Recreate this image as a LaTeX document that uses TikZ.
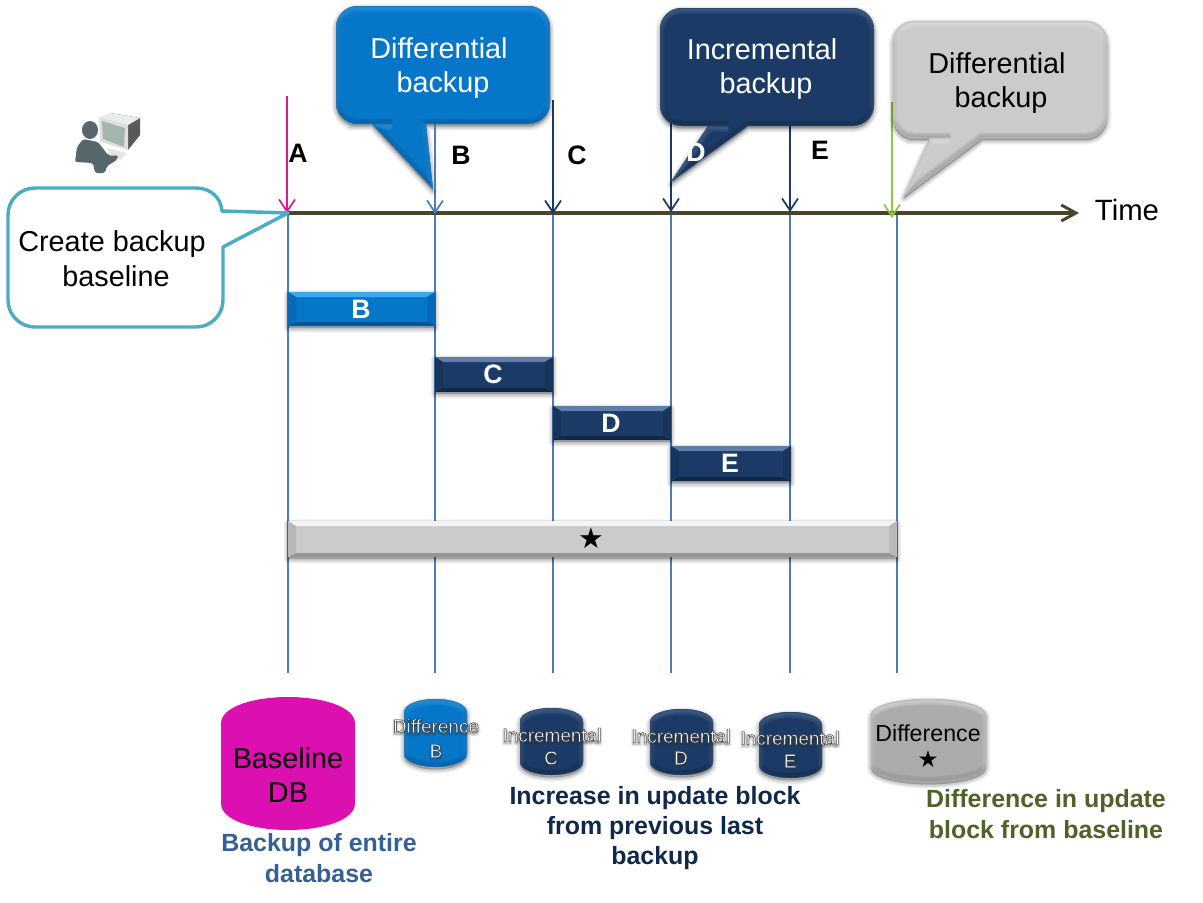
\documentclass[tikz,border=0pt]{standalone}
\usepackage{fontspec}
\setmainfont{Liberation Sans}
\newfontfamily\symfont{DejaVu Sans}
\usetikzlibrary{arrows.meta}
\definecolor{cblue}{HTML}{0676C9}
\definecolor{cbluel}{HTML}{3FA9EE}
\definecolor{cblued}{HTML}{034A80}
\definecolor{cnavy}{HTML}{1B3B66}
\definecolor{cnavyl}{HTML}{5F7FA8}
\definecolor{cnavyd}{HTML}{0B1E38}
\definecolor{cgray}{HTML}{CBCBCB}
\definecolor{cgrayl}{HTML}{F5F5F5}
\definecolor{cgrayd}{HTML}{7E7E7E}
\definecolor{cgrayb}{HTML}{ABABAB}
\definecolor{cmag}{HTML}{DC10B0}
\definecolor{cline}{HTML}{4A7EBB}
\definecolor{caxis}{HTML}{4A452A}
\definecolor{cteal}{HTML}{4BACC6}
\definecolor{cpink}{HTML}{E6168C}
\definecolor{cgreen}{HTML}{8CC83C}
\definecolor{tblue}{HTML}{376092}
\definecolor{tnavy}{HTML}{10294A}
\definecolor{tgreen}{HTML}{4F6228}
\definecolor{cbody}{HTML}{56676B}
\definecolor{cscreen}{HTML}{A5B5AE}
\tikzset{
  vline/.style={cline,line width=1.5pt},
  arrowline/.style={line width=1.5pt,-{Straight Barb[length=9pt,width=12pt,line width=1.3pt]}},
  bartext/.style={font=\bfseries\fontsize{20}{24}\selectfont,text=white,inner sep=0pt},
  letter/.style={font=\bfseries\fontsize{20}{24}\selectfont,inner sep=0pt},
  calltext/.style={font=\fontsize{21.6}{26}\selectfont,align=center,inner sep=0pt},
  cyltext/.style={font=\fontsize{14.2}{17}\selectfont,inner sep=0pt},
  lab/.style={font=\bfseries\fontsize{18.7}{22.8}\selectfont,align=center,inner sep=0pt}
}
% soft outer shadow, below the shape
\newcommand\softshadow[1]{%
  \foreach \w in {6.5pt,5.5pt,4.5pt,3.5pt,2.5pt,1.5pt,.5pt}{%
    \draw[black,opacity=.035,line width=\w,line join=round,fill=black,yshift=-1.8pt] #1;}}
% inner bevel of a shape
\newcommand\bevelshape[4]{%
  \fill[#2] #1;
  \begin{scope}
    \clip #1;
    \foreach \w/\o in {7pt/.12,5.5pt/.12,4pt/.14,2.5pt/.16,1.2pt/.18}{%
      \draw[#4,opacity=\o,line width=\w,yshift=.8pt] #1;
      \draw[#3,opacity=\o,line width=\w,yshift=-1.2pt] #1;}
  \end{scope}}
% bar with mitred bevel: x1,y1,x2,y2,base,light,dark
\newcommand\bevelbar[7]{%
  \softshadow{(#1,#2) rectangle (#3,#4)}
  \fill[#5] (#1,#2) rectangle (#3,#4);
  \fill[#6] (#1,#2) -- (#3,#2) -- ({#3-8},{#2+5}) -- ({#1+8},{#2+5}) -- cycle;
  \fill[#7!70!#5] (#1,#4) -- (#3,#4) -- ({#3-8},{#4-4}) -- ({#1+8},{#4-4}) -- cycle;
  \fill[#7!25!#5] (#1,#2) -- ({#1+8},{#2+5}) -- ({#1+8},{#4-4}) -- (#1,#4) -- cycle;
  \fill[#7!25!#5] (#3,#2) -- ({#3-8},{#2+5}) -- ({#3-8},{#4-4}) -- (#3,#4) -- cycle;
}
% cylinder outline x1,y1,x2,y2
\newcommand\cylpath[4]{({#1},{#2+0.2*(#4-#2)}) .. controls ({#1},{#2+0.07*(#4-#2)}) and ({#1+0.25*(#3-#1)},{#2}) .. ({0.5*(#1+#3)},{#2}) .. controls ({#3-0.25*(#3-#1)},{#2}) and ({#3},{#2+0.07*(#4-#2)}) .. ({#3},{#2+0.2*(#4-#2)}) -- ({#3},{#4-0.2*(#4-#2)}) .. controls ({#3},{#4-0.07*(#4-#2)}) and ({#3-0.25*(#3-#1)},{#4}) .. ({0.5*(#1+#3)},{#4}) .. controls ({#1+0.25*(#3-#1)},{#4}) and ({#1},{#4-0.07*(#4-#2)}) .. ({#1},{#4-0.2*(#4-#2)}) -- cycle}
% callout outline: x1,y1,x2,y2,base1,base2,tipx,tipy
\newcommand\callpath[8]{(#6,#4) -- ({#6+1},#4) [rounded corners=16pt] -- (#3,#4) -- (#3,#2) -- (#1,#2) -- (#1,#4) -- ({#5-1},#4) [sharp corners] -- (#5,#4) -- (#7,#8) -- cycle}
% outlined text
\newcommand\outl[1]{\special{pdf:code 2 Tr 0.28 w 0.15 G 1 g}#1\special{pdf:code 0 Tr 0 g 0 G}}
\newcommand\halo[2]{\special{pdf:code 1 Tr #1 w 0.2 G}#2\special{pdf:code 0 Tr 0 g 0 G}}
\newcommand\cyllabel[3]{%
  \foreach \hw/\ho in {3.4/.08,2/.12,.9/.18}{%
    \node[cyltext,opacity=\ho,yshift=-1pt] at (#1,#2) {\halo{\hw}{#3}};}
  \node[cyltext] at (#1,#2) {\outl{#3}};}
\begin{document}
\begin{tikzpicture}[x=0.75pt,y=-0.75pt]
\useasboundingbox (0,0) rectangle (1203,903);
\fill[white] (0,0) rectangle (1203,903);
% named positions
\foreach \n/\x in {a/288,b/435,c/553,d/671,e/790,f/897}{%
  \coordinate (\n top) at (\x,214);
  \coordinate (\n bot) at (\x,673);
  \draw[vline] (\n top) -- (\n bot);}
\coordinate (axisL) at (262,213);
\coordinate (axisR) at (1079,213);
\draw[caxis,line width=2.5pt,-{Straight Barb[length=11pt,width=12pt,line width=2.2pt]}] (axisL) -- (axisR);
% event arrows
\coordinate (pA0) at (287,96);   \coordinate (pA1) at (287,213);
\coordinate (pB0) at (435,100);  \coordinate (pB1) at (435,214);
\coordinate (pC0) at (553,100);  \coordinate (pC1) at (553,214);
\coordinate (pD0) at (671,100);  \coordinate (pD1) at (671,212);
\coordinate (pE0) at (790,100);  \coordinate (pE1) at (790,212);
\coordinate (pG0) at (892,102);  \coordinate (pG1) at (892,218);
\draw[arrowline,cpink] (pA0) -- (pA1);
\draw[arrowline,cline] (pB0) -- (pB1);
\draw[arrowline,cnavy] (pC0) -- (pC1);
\draw[arrowline,cnavy] (pD0) -- (pD1);
\draw[arrowline,cnavy] (pE0) -- (pE1);
\draw[arrowline,cgreen] (pG0) -- (pG1);
% bars
\bevelbar{288}{292}{435}{326}{cblue}{cbluel}{cblued}
\bevelbar{435}{357}{553}{392}{cnavy}{cnavyl}{cnavyd}
\bevelbar{553}{406}{671}{440}{cnavy}{cnavyl}{cnavyd}
\bevelbar{671}{446}{791}{481}{cnavy}{cnavyl}{cnavyd}
\bevelbar{288}{521}{897}{557}{cgray}{cgrayl}{cgrayd}
\node[bartext] (barB) at (361,309) {B};
\node[bartext] (barC) at (493,374) {C};
\node[bartext] (barD) at (611,423) {D};
\node[bartext] (barE) at (730,463) {E};
\node[inner sep=0pt,font=\symfont\fontsize{21.5}{24}\selectfont] (barS) at (591,538) {★};
% callouts
\softshadow{\callpath{336}{6}{550}{124}{372}{426}{433}{189}}
\bevelshape{\callpath{336}{6}{550}{124}{372}{426}{433}{189}}{cblue}{cbluel}{cblued}
\softshadow{\callpath{660}{8}{874}{126}{708}{748}{671}{182}}
\bevelshape{\callpath{660}{8}{874}{126}{708}{748}{671}{182}}{cnavy}{cnavyl}{cnavyd}
\softshadow{\callpath{893}{21}{1107}{138}{930}{982}{904}{196}}
\bevelshape{\callpath{893}{21}{1107}{138}{930}{982}{904}{196}}{cgray}{cgrayl}{cgrayd}
\draw[line width=1.5pt,cnavy] (671,127) -- (671,182);
\draw[line width=1.5pt,cline] (435,125) -- (435,190);
\node[calltext,text=white] (t1) at (439,68) {Differential\\\hspace*{6pt}backup};
\node[calltext,text=white] (t2) at (762,69) {Incremental\\\hspace*{6pt}backup};
\node[calltext] (t3) at (997,83) {Differential\\\hspace*{6pt}backup};
% baseline callout
\draw[cteal,line width=2.6pt,fill=white,line join=round] (223,247) -- (223,300) .. controls (223,315) and (211,327) .. (196,327) -- (35,327) .. controls (20,327) and (8,315) .. (8,300) -- (8,215) .. controls (8,200) and (20,188) .. (35,188) -- (196,188) .. controls (211,188) and (221,198) .. (222,211) -- (288,213) -- cycle;
\node[calltext] (t4) at (112,259) {Create backup\\\hspace*{6pt}baseline};
% letters
\node[letter] (lA) at (298,153) {A};
\node[letter] (lB) at (461,155) {B};
\node[letter] (lC) at (577,155) {C};
\node[letter,text=white] (lD) at (696,152) {D};
\node[letter] (lE) at (820,150) {E};
\node[inner sep=0pt,font=\fontsize{22}{26}\selectfont] (time) at (1127,210) {Time};
% person at terminal
\fill[gray!70!black] (110,113) -- (140,118) -- (140,135) -- (128,150) -- (128,125) -- cycle;
\fill[gray!15] (99,117) -- (110,113) -- (140,118) -- (128,125) -- cycle;
\fill[gray!25] (99,117) -- (128,125) -- (128,150) -- (100,142) -- cycle;
\fill[cscreen] (102,121) -- (125,128) -- (124,147) -- (103,139) -- cycle;
\fill[gray!20] (107,148) -- (127,153) -- (120,160) -- (110,155) -- cycle;
\fill[cbody] (90,130) ellipse [x radius=8,y radius=9];
\fill[cbody,rounded corners=1.5pt] (75,162) -- (77,147) -- (83,139) -- (98,142) -- (108,155) -- (113,156) -- (118,155) -- (117,160) -- (107,166) -- (105,173) -- (95,173) -- (93,163) -- cycle;
% cylinders
\fill[cmag] \cylpath{221}{697}{355}{830};
\softshadow{\cylpath{404}{699}{467}{767}}
\bevelshape{\cylpath{404}{699}{467}{767}}{cblue}{cbluel}{cblued}
\softshadow{\cylpath{520}{708}{583}{775}}
\bevelshape{\cylpath{520}{708}{583}{775}}{cnavy}{cnavyl}{cnavyd}
\softshadow{\cylpath{650}{709}{713}{775}}
\bevelshape{\cylpath{650}{709}{713}{775}}{cnavy}{cnavyl}{cnavyd}
\softshadow{\cylpath{759}{712}{822}{778}}
\bevelshape{\cylpath{759}{712}{822}{778}}{cnavy}{cnavyl}{cnavyd}
\softshadow{\cylpath{871}{699}{986}{782}}
\bevelshape{\cylpath{871}{699}{986}{782}}{cgrayb}{cgrayl}{cgrayd}
\node[calltext] (cyl0) at (288,775) {Baseline\\DB};
\cyllabel{436}{726}{Difference}
\cyllabel{436}{751}{B}
\cyllabel{552}{735}{Incremental}
\cyllabel{551}{758}{C}
\cyllabel{681}{736}{Incremental}
\cyllabel{681}{758}{D}
\cyllabel{790}{738}{Incremental}
\cyllabel{790}{761}{E}
\node[inner sep=0pt,font=\fontsize{17.4}{20}\selectfont] (cyl5) at (928,733) {Difference};
\node[inner sep=0pt,font=\symfont\fontsize{17.5}{20}\selectfont] (cyl5s) at (928,759) {★};
% labels
\node[lab,text=tblue] (L1) at (319,858) {Backup of entire\\database};
\node[lab,text=tnavy] (L2) at (655,828) {Increase in update block\\from previous last\\backup};
\node[lab,text=tgreen] (L3) at (1046,814) {Difference in update\\block from baseline};
\end{tikzpicture}
\end{document}
